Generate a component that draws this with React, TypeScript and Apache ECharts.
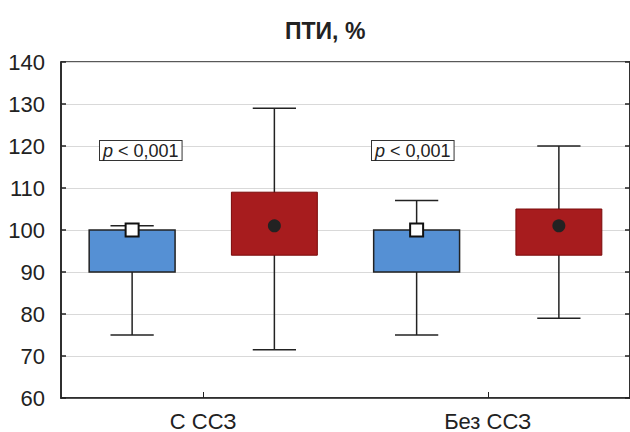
import React, { useEffect, useRef } from "react";
import * as echarts from "echarts";

const categories = ["С ССЗ", "Без ССЗ"];
const yTicks = [60, 70, 80, 90, 100, 110, 120, 130, 140];

// Group A (blue, square marker)
const blueLow = [75, 75];
const blueQ1 = [90, 90];
const blueQ3 = [100, 100];
const blueHigh = [101, 107];
const blueCenter = [100, 100];

// Group B (red, dot marker)
const redLow = [71.5, 79];
const redQ1 = [94, 94];
const redQ3 = [109, 105];
const redHigh = [129, 120];
const redCenter = [101, 101];

const pLabels = ["p < 0,001", "p < 0,001"];

const FONT = "Liberation Sans, Arial, sans-serif";

function makeRender(offset: number, fill: string, stroke: string, strokeW: number, marker: "square" | "dot") {
  return (params: any, api: any) => {
    const cat = api.value(0);
    const band = api.size([1, 0])[0];
    const cx = api.coord([cat, 0])[0] + offset * band;
    const yLow = api.coord([cat, api.value(1)])[1];
    const yQ1 = api.coord([cat, api.value(2)])[1];
    const yQ3 = api.coord([cat, api.value(3)])[1];
    const yHigh = api.coord([cat, api.value(4)])[1];
    const yMid = api.coord([cat, api.value(5)])[1];
    const halfBox = band * 0.151;
    const halfCap = band * 0.076;
    const lineStyle = { stroke: "#222", lineWidth: 1.5 };
    const children: any[] = [
      { type: "line", shape: { x1: cx, y1: yHigh, x2: cx, y2: yLow }, style: lineStyle },
      { type: "line", shape: { x1: cx - halfCap, y1: yHigh, x2: cx + halfCap, y2: yHigh }, style: lineStyle },
      { type: "line", shape: { x1: cx - halfCap, y1: yLow, x2: cx + halfCap, y2: yLow }, style: lineStyle },
      {
        type: "rect",
        shape: { x: cx - halfBox, y: yQ3, width: 2 * halfBox, height: yQ1 - yQ3 },
        style: { fill, stroke, lineWidth: strokeW },
      },
    ];
    if (marker === "square") {
      children.push({
        type: "rect",
        shape: { x: cx - 6.5, y: yMid - 6.5, width: 13, height: 13 },
        style: { fill: "#fff", stroke: "#111", lineWidth: 2 },
      });
    } else {
      children.push({
        type: "circle",
        shape: { cx, cy: yMid, r: 6.5 },
        style: { fill: "#222" },
      });
    }
    return { type: "group", children };
  };
}

export default function App() {
  const ref = useRef<HTMLDivElement>(null);
  useEffect(() => {
    document.body.style.margin = "0";
    if (!ref.current) return;
    const chart = echarts.init(ref.current, undefined, { renderer: "svg" });
    const blueData = categories.map((_, i) => [i, blueLow[i], blueQ1[i], blueQ3[i], blueHigh[i], blueCenter[i]]);
    const redData = categories.map((_, i) => [i, redLow[i], redQ1[i], redQ3[i], redHigh[i], redCenter[i]]);

    const pText = (label: string, x: number, y: number) => {
      const rest = label.slice(1);
      return {
        type: "text",
        x,
        y,
        z: 100,
        style: {
          text: "{i|" + label[0] + "}{n|" + rest + "}",
          rich: {
            i: { fontStyle: "italic", fontSize: 18, fontFamily: FONT, fill: "#222" },
            n: { fontSize: 18, fontFamily: FONT, fill: "#222" },
          },
          backgroundColor: "#fff",
          borderColor: "#333",
          borderWidth: 1,
          padding: [1, 3, 0, 3],
        },
      };
    };

    chart.setOption({
      animation: false,
      title: {
        text: "ПТИ, %",
        left: 280,
        top: 14,
        textStyle: { fontFamily: FONT, fontSize: 23, fontWeight: "bold", color: "#222" },
      },
      grid: {
        left: 61,
        right: -1,
        top: 62,
        bottom: 34,
        show: true,
        borderColor: "#222",
        borderWidth: 1.5,
      },
      xAxis: {
        type: "category",
        data: categories,
        axisLine: { lineStyle: { color: "#222", width: 1.5 } },
        axisTick: { show: true, inside: true, alignWithLabel: true, length: 6, lineStyle: { color: "#222", width: 1 } },
        axisLabel: { fontFamily: FONT, fontSize: 22, color: "#222", margin: 12 },
        splitLine: { show: false },
      },
      yAxis: [
        {
          type: "value",
          min: yTicks[0],
          max: yTicks[yTicks.length - 1],
          interval: 10,
          axisLine: { show: true, lineStyle: { color: "#222", width: 1.5 } },
          axisTick: { show: true, inside: true, length: 5, lineStyle: { color: "#222", width: 1.5 } },
          axisLabel: { fontFamily: FONT, fontSize: 22, color: "#222", margin: 16 },
          splitLine: { show: true, lineStyle: { color: "#d9d9d9", width: 1 } },
        },
        {
          type: "value",
          position: "right",
          min: yTicks[0],
          max: yTicks[yTicks.length - 1],
          interval: 10,
          axisLine: { show: true, lineStyle: { color: "#222", width: 1.5 } },
          axisTick: { show: true, inside: true, length: 5, lineStyle: { color: "#222", width: 1.5 } },
          axisLabel: { show: false },
          splitLine: { show: false },
        },
      ],
      series: [
        {
          type: "custom",
          name: "blue",
          data: blueData,
          encode: { x: 0, y: [1, 2, 3, 4, 5] },
          renderItem: makeRender(-0.25, "#5590d4", "#222", 1.5, "square"),
          z: 5,
        },
        {
          type: "custom",
          name: "red",
          data: redData,
          encode: { x: 0, y: [1, 2, 3, 4, 5] },
          renderItem: makeRender(0.25, "#a71c1e", "#7a0a0a", 1, "dot"),
          z: 5,
        },
      ],
      graphic: [pText(pLabels[0], 100, 141), pText(pLabels[1], 372, 141)],
    });
    return () => chart.dispose();
  }, []);
  return <div ref={ref} style={{ width: 630, height: 432 }} />;
}
